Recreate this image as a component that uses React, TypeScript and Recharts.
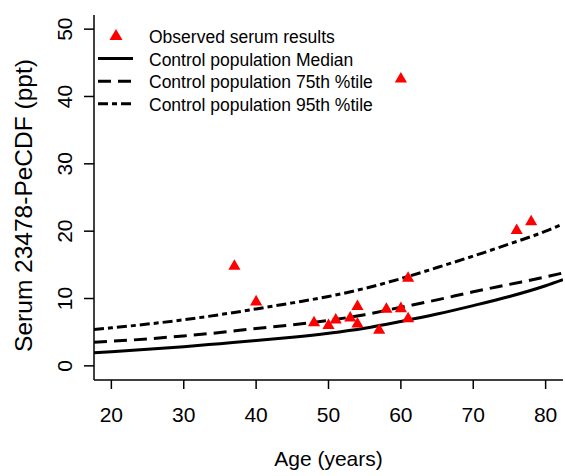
import React from "react";
import {
  ComposedChart,
  Line,
  Scatter,
  XAxis,
  YAxis,
  Legend,
  Label,
} from "recharts";

const FONT = "'Liberation Sans', Arial, sans-serif";

// control population curves
const AGES = [17.6, 20, 25, 30, 35, 40, 45, 50, 55, 60, 65, 70, 75, 80, 82.4];
const MEDIAN = [1.95, 2.1, 2.45, 2.85, 3.3, 3.75, 4.25, 4.85, 5.6, 6.6, 7.7, 8.95, 10.3, 11.9, 12.8];
const P75 = [3.5, 3.65, 4.0, 4.45, 4.95, 5.55, 6.1, 6.75, 7.6, 8.7, 9.8, 11.0, 12.1, 13.2, 13.8];
const P95 = [5.4, 5.65, 6.2, 6.85, 7.6, 8.45, 9.35, 10.3, 11.5, 12.95, 14.6, 16.3, 18.1, 20.0, 21.1];

// observed serum results
const OBS_AGE = [37, 40, 48, 50, 51, 53, 54, 54, 57, 58, 60, 60, 61, 61, 76, 78];
const OBS_VAL = [14.8, 9.5, 6.4, 6.0, 6.8, 7.1, 8.8, 6.2, 5.3, 8.4, 8.5, 42.6, 13.0, 7.0, 20.1, 21.4];

const X_TICKS = [20, 30, 40, 50, 60, 70, 80];
const Y_TICKS = [0, 10, 20, 30, 40, 50];

const LEGEND = [
  { label: "Observed serum results", kind: "point", dash: "" },
  { label: "Control population Median", kind: "line", dash: "" },
  { label: "Control population 75th %tile", kind: "line", dash: "13 7" },
  { label: "Control population 95th %tile", kind: "line", dash: "10 4 5 4" },
];

const curves = AGES.map((age, i) => ({
  age,
  median: MEDIAN[i],
  p75: P75[i],
  p95: P95[i],
}));

const observed = OBS_AGE.map((age, i) => ({ age, value: OBS_VAL[i] }));

function YTick({ x, y, payload }: any) {
  const tx = x - 10;
  return (
    <text
      x={tx}
      y={y}
      transform={`rotate(-90, ${tx}, ${y})`}
      textAnchor="middle"
      fontSize={21}
      fontFamily={FONT}
      fill="#000"
    >
      {payload.value}
    </text>
  );
}

function LegendBox() {
  return (
    <svg width={420} height={120} style={{ display: "block" }}>
      {LEGEND.map((item, i) => {
        const cy = 36 + i * 22.6;
        return (
          <g key={item.label}>
            {item.kind === "point" ? (
              <path
                d={`M116,${cy - 7} L122.5,${cy + 4} L109.5,${cy + 4} Z`}
                fill="#ff0000"
              />
            ) : (
              <line
                x1={98}
                x2={133}
                y1={cy}
                y2={cy}
                stroke="#000"
                strokeWidth={3}
                strokeDasharray={item.dash}
              />
            )}
            <text
              x={149}
              y={cy + 7}
              fontSize={17.5}
              fontFamily={FONT}
              fill="#000"
            >
              {item.label}
            </text>
          </g>
        );
      })}
    </svg>
  );
}

export default function App() {
  return (
    <div style={{ position: "absolute", left: 0, top: 0, background: "#fff" }}>
      <ComposedChart
        width={565}
        height={476}
        data={curves}
        margin={{ top: 15, right: 2, bottom: 66, left: 34 }}
      >
        <XAxis
          dataKey="age"
          type="number"
          domain={[17.6, 82.4]}
          ticks={X_TICKS}
          allowDataOverflow
          height={30}
          axisLine={{ stroke: "#000", strokeWidth: 1.5 }}
          tickLine={{ stroke: "#000", strokeWidth: 1.5 }}
          tickSize={9}
          tickMargin={18}
          tick={{ fontSize: 21, fontFamily: FONT, fill: "#000" }}
        >
          <Label
            content={({ viewBox }: any) => (
              <text
                x={viewBox.x + viewBox.width / 2}
                y={viewBox.y + 86}
                textAnchor="middle"
                fontSize={21}
                fontFamily={FONT}
                fill="#000"
              >
                Age (years)
              </text>
            )}
          />
        </XAxis>
        <XAxis
          xAxisId="top"
          orientation="top"
          type="number"
          domain={[17.6, 82.4]}
          height={0}
          tick={false}
          tickLine={false}
          axisLine={{ stroke: "#000", strokeWidth: 1.5 }}
        />
        <YAxis
          type="number"
          domain={[-2.1, 52.1]}
          ticks={Y_TICKS}
          allowDataOverflow
          width={60}
          axisLine={{ stroke: "#000", strokeWidth: 1.5 }}
          tickLine={{ stroke: "#000", strokeWidth: 1.5 }}
          tickSize={10}
          tickMargin={2}
          tick={<YTick />}
        >
          <Label
            content={({ viewBox }: any) => {
              const cx = viewBox.x - 2;
              const cy = viewBox.y + viewBox.height / 2 + 8;
              return (
                <text
                  x={cx}
                  y={cy}
                  transform={`rotate(-90, ${cx}, ${cy})`}
                  textAnchor="middle"
                  fontSize={24.5}
                  fontFamily={FONT}
                  fill="#000"
                >
                  Serum 23478-PeCDF (ppt)
                </text>
              );
            }}
          />
        </YAxis>
        <YAxis
          yAxisId="right"
          orientation="right"
          type="number"
          domain={[-2.1, 52.1]}
          width={0}
          tick={false}
          tickLine={false}
          axisLine={{ stroke: "#000", strokeWidth: 1.5 }}
        />
        <Legend
          layout="vertical"
          align="center"
          verticalAlign="middle"
          wrapperStyle={{ left: 0, top: 0, width: 420, height: 120 }}
          content={() => <LegendBox />}
        />
        <Line
          dataKey="median"
          type="monotone"
          stroke="#000"
          strokeWidth={3}
          dot={false}
          isAnimationActive={false}
        />
        <Line
          dataKey="p75"
          type="monotone"
          stroke="#000"
          strokeWidth={3}
          strokeDasharray="13 7"
          dot={false}
          isAnimationActive={false}
        />
        <Line
          dataKey="p95"
          type="monotone"
          stroke="#000"
          strokeWidth={3}
          strokeDasharray="10 4 5 4"
          dot={false}
          isAnimationActive={false}
        />
        <Scatter
          data={observed}
          dataKey="value"
          shape="triangle"
          fill="#ff0000"
          isAnimationActive={false}
        />
      </ComposedChart>
    </div>
  );
}
